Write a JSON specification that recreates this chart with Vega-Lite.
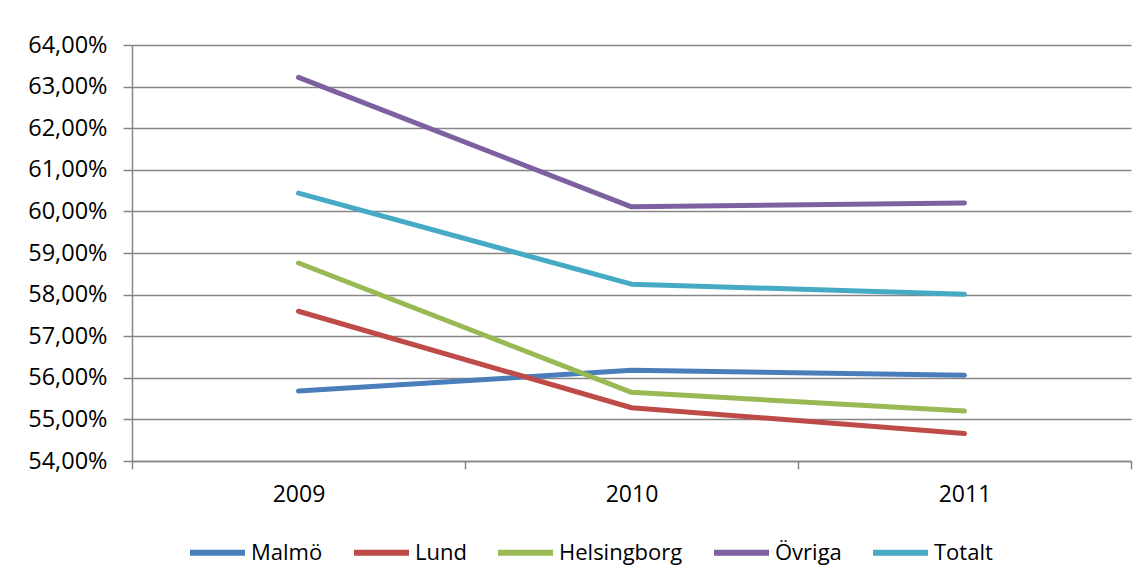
{
  "$schema": "https://vega.github.io/schema/vega-lite/v6.json",
  "autosize": "none",
  "width": 999,
  "height": 416,
  "padding": {"left": 132, "top": 45, "right": 15, "bottom": 120},
  "background": "white",
  "config": {
    "locale": {"number": {"decimal": ",", "thousands": " ", "grouping": [3], "currency": ["", " kr"]}},
    "view": {"stroke": null},
    "font": "Open Sans"
  },
  "data": {
    "values": [
      {"year": "2009", "region": "Malmö", "value": 0.5568},
      {"year": "2010", "region": "Malmö", "value": 0.5618},
      {"year": "2011", "region": "Malmö", "value": 0.5606},
      {"year": "2009", "region": "Lund", "value": 0.5760},
      {"year": "2010", "region": "Lund", "value": 0.5528},
      {"year": "2011", "region": "Lund", "value": 0.5466},
      {"year": "2009", "region": "Helsingborg", "value": 0.5876},
      {"year": "2010", "region": "Helsingborg", "value": 0.5565},
      {"year": "2011", "region": "Helsingborg", "value": 0.5520},
      {"year": "2009", "region": "Övriga", "value": 0.6322},
      {"year": "2010", "region": "Övriga", "value": 0.6011},
      {"year": "2011", "region": "Övriga", "value": 0.6020},
      {"year": "2009", "region": "Totalt", "value": 0.6044},
      {"year": "2010", "region": "Totalt", "value": 0.5825},
      {"year": "2011", "region": "Totalt", "value": 0.5801}
    ]
  },
  "mark": {"type": "line", "strokeWidth": 5, "strokeCap": "round", "strokeJoin": "round"},
  "encoding": {
    "x": {
      "field": "year",
      "type": "ordinal",
      "bandPosition": 0.5,
      "scale": {"type": "band", "paddingInner": 0, "paddingOuter": 0},
      "axis": {
        "title": null,
        "labelAngle": 0,
        "tickBand": "extent",
        "tickSize": 8,
        "tickColor": "#868686",
        "domainColor": "#868686",
        "domainWidth": 1.5,
        "tickWidth": 1.5,
        "labelFontSize": 23,
        "labelColor": "#000000",
        "labelFont": "Open Sans",
        "labelPadding": 14,
        "grid": false
      }
    },
    "y": {
      "field": "value",
      "type": "quantitative",
      "scale": {"domain": [0.54, 0.64], "nice": false, "zero": false},
      "axis": {
        "title": null,
        "format": ".2%",
        "values": [0.54, 0.55, 0.56, 0.57, 0.58, 0.59, 0.60, 0.61, 0.62, 0.63, 0.64],
        "tickSize": 9,
        "tickColor": "#868686",
        "tickWidth": 1.5,
        "domainColor": "#868686",
        "domainWidth": 1.5,
        "grid": true,
        "gridColor": "#868686",
        "gridWidth": 1.5,
        "labelFontSize": 23.5,
        "labelColor": "#000000",
        "labelFont": "Open Sans",
        "labelPadding": 16
      }
    },
    "color": {
      "field": "region",
      "type": "nominal",
      "scale": {
        "domain": ["Malmö", "Lund", "Helsingborg", "Övriga", "Totalt"],
        "range": ["#4A7EBB", "#BE4B48", "#98B954", "#7D60A0", "#46AAC5"]
      },
      "legend": {
        "title": null,
        "orient": "none",
        "direction": "horizontal",
        "legendX": 55,
        "legendY": 477,
        "symbolType": "stroke",
        "symbolSize": 3025,
        "symbolStrokeWidth": 6,
        "labelFontSize": 22,
        "labelFont": "Open Sans",
        "labelColor": "#000000",
        "labelOffset": 3,
        "columnPadding": 19
      }
    }
  }
}
